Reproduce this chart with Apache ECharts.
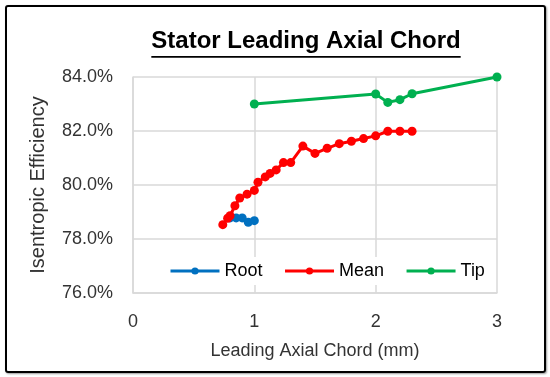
<!DOCTYPE html>
<html>
<head>
<meta charset="utf-8">
<script src="https://cdn.jsdelivr.net/npm/echarts@6/dist/echarts.min.js"></script>
<style>
html,body{margin:0;padding:0;background:#fff;}
#frame{position:absolute;left:5px;top:5px;width:537px;height:364px;border:2px solid #000;border-radius:3px;box-shadow:1px 1px 2px rgba(0,0,0,0.4);}
#chart{position:absolute;left:0;top:0;width:550px;height:377px;}
</style>
</head>
<body>
<div id="frame"></div>
<div id="chart"></div>
<script>
var titleText = 'Stator Leading Axial Chord';
var xAxisName = 'Leading Axial Chord (mm)';
var yAxisName = 'Isentropic Efficiency';
var seriesNames = ['Root', 'Mean', 'Tip'];

var rootX = [0.80, 0.85, 0.90, 0.95, 1.00];
var rootY = [78.78, 78.78, 78.78, 78.62, 78.68];

var meanX = [0.74, 0.78, 0.80, 0.84, 0.88, 0.94, 1.00, 1.03, 1.09, 1.13, 1.18, 1.24, 1.30, 1.40, 1.50, 1.60, 1.70, 1.80, 1.90, 2.00, 2.10, 2.20, 2.30];
var meanY = [78.53, 78.77, 78.86, 79.23, 79.52, 79.66, 79.80, 80.10, 80.30, 80.43, 80.56, 80.83, 80.83, 81.44, 81.17, 81.36, 81.53, 81.62, 81.72, 81.82, 81.99, 81.99, 81.99];

var tipX = [1.00, 2.00, 2.10, 2.20, 2.30, 3.00];
var tipY = [83.00, 83.37, 83.06, 83.16, 83.38, 84.00];

var colors = ['#0070C0', '#FF0000', '#00B050'];

function pairs(xs, ys){ return xs.map(function(x,i){ return [x, ys[i]]; }); }

var fontFam = '"Liberation Sans", Arial, sans-serif';
var titleSize = 24;
var cv = document.createElement('canvas').getContext('2d');
cv.font = 'bold ' + titleSize + 'px ' + fontFam;
var tw = cv.measureText(titleText).width;
var tcx = 306, tcy = 43;

var chart = echarts.init(document.getElementById('chart'));
var data = [pairs(rootX, rootY), pairs(meanX, meanY), pairs(tipX, tipY)];
chart.setOption({
  animation: false,
  color: colors,
  grid: {left: 133, right: 53, top: 77, bottom: 84},
  graphic: [
    {type: 'text', left: tcx - tw/2, top: tcy - titleSize*0.58,
     style: {text: titleText, font: 'bold ' + titleSize + 'px ' + fontFam, fill: '#000'}},
    {type: 'rect', shape: {x: tcx - tw/2, y: tcy + 13, width: tw, height: 1.8}, style: {fill: '#000'}}
  ],
  legend: {
    data: seriesNames,
    left: 164, top: 257,
    itemWidth: 49, itemHeight: 9, itemGap: 21,
    lineStyle: {width: 3},
    textStyle: {fontFamily: fontFam, fontSize: 18, color: '#000'},
    backgroundColor: '#fff'
  },
  xAxis: {
    type: 'value', min: 0, max: 3, interval: 1,
    name: xAxisName, nameLocation: 'middle', nameGap: 49,
    nameTextStyle: {fontFamily: fontFam, fontSize: 18, color: '#333'},
    axisLine: {show: true, lineStyle: {color: '#d9d9d9', width: 1.5}},
    axisTick: {show: false},
    axisLabel: {fontFamily: fontFam, fontSize: 18, color: '#333', margin: 20},
    splitLine: {show: true, lineStyle: {color: '#d9d9d9', width: 1.5}}
  },
  yAxis: {
    type: 'value', min: 76, max: 84, interval: 2,
    name: yAxisName, nameLocation: 'middle', nameGap: 85,
    nameTextStyle: {fontFamily: fontFam, fontSize: 20, color: '#333'},
    axisLine: {show: true, lineStyle: {color: '#d9d9d9', width: 1.5}},
    axisTick: {show: false},
    axisLabel: {fontFamily: fontFam, fontSize: 18, color: '#333', margin: 20,
      formatter: function(v){ return v.toFixed(1) + '%'; }},
    splitLine: {show: true, lineStyle: {color: '#d9d9d9', width: 1.5}}
  },
  series: seriesNames.map(function(n, i){
    return {name: n, type: 'line', data: data[i], symbol: 'circle', symbolSize: 9,
      lineStyle: {width: 3}, itemStyle: {color: colors[i]}};
  })
});
</script>
</body>
</html>
